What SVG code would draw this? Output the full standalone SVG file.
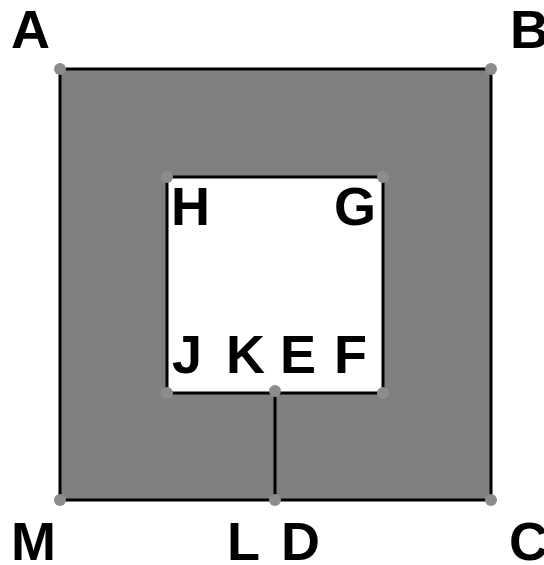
<svg xmlns="http://www.w3.org/2000/svg" width="544" height="565" viewBox="0 0 544 565">
<style>
.lbl{font-family:"Liberation Sans",Arial,sans-serif;font-weight:bold;font-size:54px;fill:#000}
.pt{fill:#8c8c8c}
.edge{stroke:#000;stroke-width:3;fill:none}
</style>
<rect width="544" height="565" fill="#fff"/>
<g id="regions">
<path d="M60 69H491V500H60Z M167 177V393H383V177Z" fill="#808080" fill-rule="evenodd"/>
<rect x="167" y="177" width="216" height="216" fill="#fff"/>
</g>
<g id="connectors">
<path class="edge" d="M60 69H491V500H60Z"/>
<path class="edge" d="M167 177H383V393H167Z"/>
<line class="edge" x1="275" y1="392" x2="275" y2="500"/>
</g>
<g id="A"><circle class="pt" cx="60" cy="69" r="6"/><text class="lbl" x="11" y="48">A</text></g>
<g id="B"><circle class="pt" cx="491" cy="69" r="6"/><text class="lbl" x="510" y="48">B</text></g>
<g id="C"><circle class="pt" cx="491" cy="500" r="6"/><text class="lbl" x="509" y="560">C</text></g>
<g id="M"><circle class="pt" cx="60" cy="500" r="6"/><text class="lbl" x="11" y="560">M</text></g>
<g id="LD"><circle class="pt" cx="275" cy="500" r="6"/><text class="lbl" x="227" y="560">L</text><text class="lbl" x="281" y="560">D</text></g>
<g id="H"><circle class="pt" cx="167" cy="177" r="6"/><text class="lbl" x="171" y="225">H</text></g>
<g id="G"><circle class="pt" cx="383" cy="177" r="6"/><text class="lbl" x="334" y="225">G</text></g>
<g id="J"><circle class="pt" cx="167" cy="393" r="6"/><text class="lbl" x="172" y="373">J</text></g>
<g id="F"><circle class="pt" cx="383" cy="393" r="6"/><text class="lbl" x="334" y="373">F</text></g>
<g id="KE"><circle class="pt" cx="275" cy="391" r="6"/><text class="lbl" x="226" y="373">K</text><text class="lbl" x="280" y="373">E</text></g>
</svg>
